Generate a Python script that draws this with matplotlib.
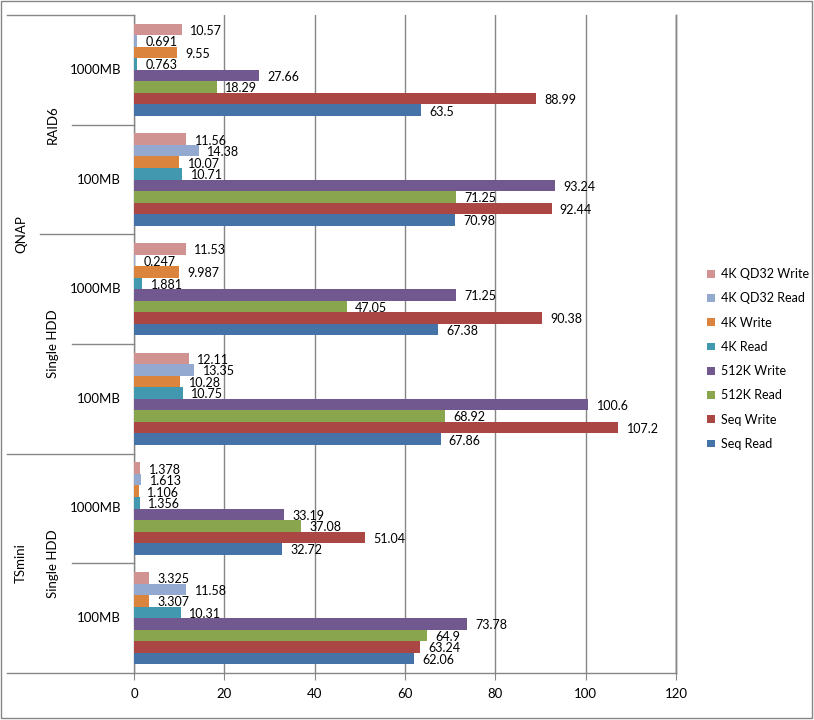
import matplotlib
matplotlib.use("Agg")
import matplotlib.pyplot as plt
from matplotlib.transforms import blended_transform_factory
from matplotlib.patches import Rectangle
import numpy as np

plt.rcParams['font.family'] = ['Lato', 'DejaVu Sans']

series = ["Seq Read", "Seq Write", "512K Read", "512K Write",
          "4K Read", "4K Write", "4K QD32 Read", "4K QD32 Write"]
colors = ["#4572A7", "#AA4643", "#89A54E", "#71588F",
          "#4198AF", "#DB843D", "#93A9CF", "#D19392"]

# groups bottom to top
size_labels = ["100MB", "1000MB", "100MB", "1000MB", "100MB", "1000MB"]
disk_labels = ["Single HDD", "Single HDD", "RAID6"]
device_labels = ["TSmini", "QNAP"]

seq_read   = [62.06, 32.72, 67.86, 67.38, 70.98, 63.5]
seq_write  = [63.24, 51.04, 107.2, 90.38, 92.44, 88.99]
k512_read  = [64.9, 37.08, 68.92, 47.05, 71.25, 18.29]
k512_write = [73.78, 33.19, 100.6, 71.25, 93.24, 27.66]
k4_read    = [10.31, 1.356, 10.75, 1.881, 10.71, 0.763]
k4_write   = [3.307, 1.106, 10.28, 9.987, 10.07, 9.55]
qd32_read  = [11.58, 1.613, 13.35, 0.247, 14.38, 0.691]
qd32_write = [3.325, 1.378, 12.11, 11.53, 11.56, 10.57]
x_ticks = [0, 20, 40, 60, 80, 100, 120]

values = [seq_read, seq_write, k512_read, k512_write,
          k4_read, k4_write, qd32_read, qd32_write]

W, H = 814, 720
fig = plt.figure(figsize=(W / 100, H / 100), dpi=100)
L, R, T, B = 134, 676, 15, 673
ax = fig.add_axes([L / W, 1 - B / H, (R - L) / W, (B - T) / H])

grid_c = "#868686"
n = len(series)
h = 0.105
ypos = np.arange(len(size_labels))
for i, (name, vals, c) in enumerate(zip(series, values, colors)):
    y = ypos + (i - (n - 1) / 2) * h
    ax.barh(y, vals, height=h, color=c, label=name, zorder=3)
    for yy, v in zip(y, vals):
        ax.annotate(f"{v:g}", (v, yy), xytext=(6, -1), textcoords="offset points",
                    ha="left", va="center", fontsize=9, color="black", zorder=4)

ax.set_xlim(0, 120)
ax.set_ylim(-0.5, 5.5)
ax.set_xticks(x_ticks)
ax.set_xticklabels([str(t) for t in x_ticks], fontsize=9.5)
ax.set_yticks([])
ax.tick_params(axis="x", direction="out", length=5, color=grid_c, pad=6)
ax.grid(axis="x", color=grid_c, linewidth=1, zorder=0)
ax.spines["top"].set_visible(False)
for s in ["bottom", "left", "right"]:
    ax.spines[s].set_color(grid_c)
    ax.spines[s].set_linewidth(1)
ax.axvline(x_ticks[-1] - 0.05, color=grid_c, lw=1, clip_on=False, zorder=1)

# hierarchical category axis
tr = blended_transform_factory(ax.transAxes, ax.transData)
def px(x):
    return (x - L) / (R - L)

for y, x0 in [(-0.5, 7), (5.5, 7), (1.5, 7), (3.5, 40), (0.5, 72), (2.5, 72), (4.5, 72)]:
    ax.plot([px(x0), 0], [y, y], transform=tr, color=grid_c, lw=1, clip_on=False)

for g, lab in enumerate(size_labels):
    ax.text(px(121), g, lab, transform=tr, ha="right", va="center", fontsize=9.5)
for yc, lab in zip([0.5, 2.5, 4.5], disk_labels):
    ax.text(px(53), yc, lab, transform=tr, ha="center", va="center",
            rotation=90, fontsize=9.5)
for yc, lab in zip([0.5, 3.5], device_labels):
    ax.text(px(21), yc, lab, transform=tr, ha="center", va="center",
            rotation=90, fontsize=9.5)

handles, labels = ax.get_legend_handles_labels()
leg = fig.legend(handles[::-1], labels[::-1], loc="center left",
                 bbox_to_anchor=(701 / W, 1 - 359 / H), frameon=False,
                 fontsize=9, handlelength=0.6, handleheight=0.6,
                 handletextpad=0.5, labelspacing=0.98, borderpad=0)

fig.patches.append(Rectangle((1 / W, 2 / H), 811 / W, 717 / H, transform=fig.transFigure,
                             fill=False, edgecolor=grid_c, lw=1))

fig.savefig("out.png", dpi=100)
